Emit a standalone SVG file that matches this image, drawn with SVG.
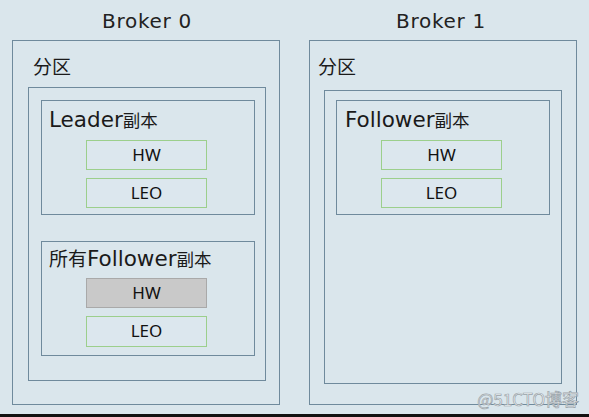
<svg xmlns="http://www.w3.org/2000/svg" width="589" height="417" viewBox="0 0 589 417">
<style>
.box{fill:none;stroke:#6f8a9c;stroke-width:1}
.fld{fill:#dce7ee;stroke:#9ccf8c;stroke-width:1}
.fldg{fill:#c9c9c9;stroke:#a9a9a9;stroke-width:1}
.t{font-family:"DejaVu Sans","Noto Sans CJK SC",sans-serif;fill:#1a1a1a;font-size:21.5px}
.c{font-family:"Noto Sans CJK SC",sans-serif;font-size:17.5px}
.title{font-family:"DejaVu Sans",sans-serif;font-size:20px;letter-spacing:0.7px;fill:#222;text-anchor:middle}
.f{font-family:"Noto Sans","Liberation Sans",sans-serif;font-size:17px;fill:#111;text-anchor:middle}
</style>
<rect x="0" y="0" width="589" height="417" fill="#dae6ec"/>
<rect x="0" y="414" width="589" height="3" fill="#111"/>
<g id="broker0">
<text class="title" x="147" y="28">Broker 0</text>
<rect class="box" x="12.5" y="40.5" width="267" height="364"/>
</g>
<g id="partition0">
<text class="t c" x="33" y="74" style="font-size:19px">分区</text>
<rect class="box" x="28.5" y="87.5" width="237" height="293"/>
</g>
<g id="leader">
<rect class="box" x="41.5" y="100.5" width="213" height="114"/>
<text class="t" x="49" y="127">Leader<tspan class="c">副本</tspan></text>
</g>
<g id="leader-hw">
<rect class="fld" x="86.5" y="140.5" width="120" height="29"/>
<text class="f" x="146.5" y="161">HW</text>
</g>
<g id="leader-leo">
<rect class="fld" x="86.5" y="178.5" width="120" height="29"/>
<text class="f" x="146.5" y="199">LEO</text>
</g>
<g id="followers">
<rect class="box" x="41.5" y="241.5" width="213" height="114"/>
<text class="t" x="49" y="266"><tspan class="c" style="font-size:19px">所有</tspan>Follower<tspan class="c">副本</tspan></text>
</g>
<g id="followers-hw">
<rect class="fldg" x="86.5" y="278.5" width="120" height="29"/>
<text class="f" x="146.5" y="299">HW</text>
</g>
<g id="followers-leo">
<rect class="fld" x="86.5" y="316.5" width="120" height="30"/>
<text class="f" x="146.5" y="337">LEO</text>
</g>
<g id="broker1">
<text class="title" x="441" y="28">Broker 1</text>
<rect class="box" x="309.5" y="40.5" width="267" height="364"/>
</g>
<g id="partition1">
<text class="t c" x="318" y="74" style="font-size:19px">分区</text>
<rect class="box" x="324.5" y="90.5" width="237" height="293"/>
</g>
<g id="follower">
<rect class="box" x="336.5" y="100.5" width="213" height="114"/>
<text class="t" x="345" y="127">Follower<tspan class="c">副本</tspan></text>
</g>
<g id="follower-hw">
<rect class="fld" x="381.5" y="140.5" width="120" height="29"/>
<text class="f" x="441.5" y="161">HW</text>
</g>
<g id="follower-leo">
<rect class="fld" x="381.5" y="178.5" width="120" height="29"/>
<text class="f" x="441.5" y="199">LEO</text>
</g>
<g id="connectors"></g>
<text x="579" y="406" text-anchor="end" font-family="Noto Sans CJK SC,Liberation Sans,sans-serif" font-size="17" fill="#f4f6f7" stroke="#98a2a8" stroke-width="0.7">@51CTO博客</text>
</svg>
